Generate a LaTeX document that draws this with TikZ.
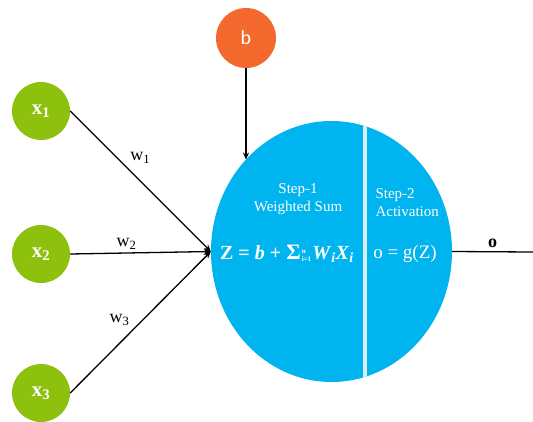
\documentclass[tikz,border=0pt]{standalone}
\usepackage{fontspec}
\setmainfont{Liberation Serif}
\newfontfamily\labelsans{Carlito}
\usetikzlibrary{arrows.meta,positioning,shapes.geometric}
\definecolor{inputgreen}{RGB}{141,193,14}
\definecolor{biasorange}{RGB}{244,106,46}
\definecolor{neuronblue}{RGB}{0,181,239}
\definecolor{splitblue}{RGB}{215,238,250}

\begin{document}
\begin{tikzpicture}[x=1pt,y=-1pt,>={Stealth[length=7pt,width=6pt]},
    input/.style={circle,fill=inputgreen,minimum size=58pt,inner sep=0pt,
                  text=white,font=\fontsize{21}{21}\selectfont\bfseries},
    bias/.style={circle,fill=biasorange,minimum size=60pt,inner sep=0pt,
                 text=white,font=\fontsize{20}{20}\labelsans},
    neuron/.style={ellipse,fill=neuronblue,minimum width=241pt,
                   minimum height=261pt,inner sep=0pt},
    wire/.style={line width=1.3pt},
    weight/.style={font=\fontsize{18}{18}\selectfont},
    steptext/.style={text=white,font=\fontsize{15}{18}\selectfont}]
  \useasboundingbox (0,0) rectangle (533,421);

  \node[neuron] (n) at (331.5,251.5) {};
  \begin{scope}
    \clip (n.center) ellipse [x radius=120.5pt, y radius=130.5pt];
    \draw[splitblue,line width=3.5pt] (365,100) -- (365,400);
  \end{scope}

  \node[input] (x1) at (41,111) {x\textsubscript{1}};
  \node[input] (x2) at (41,254) {x\textsubscript{2}};
  \node[input] (x3) at (41,393) {x\textsubscript{3}};
  \node[bias]  (b)  at (246,38) {b};

  \node[steptext,align=center] (s1) at (298,199) {Step-1\\Weighted Sum};
  \node[steptext,align=left,anchor=west] (s2) at (372,203) {Step-2\\Activation};
  \node[text=white,font=\fontsize{20}{20}\selectfont\bfseries] (sum) at (287,254)
    {Z = \textit{b} + {\fontsize{22}{22}\selectfont Σ}\raisebox{-0.1em}{\fontsize{7}{8}\selectfont\begin{tabular}[b]{@{\,}l@{\,}}n\\i=1\end{tabular}}\textit{W}\textsubscript{\textit{i}}\textit{X}\textsubscript{\textit{i}}};
  \node[text=white,font=\fontsize{19}{19}\selectfont] (act) at (405,254) {o = g(Z)};

  \coordinate (out) at (533,252);

  \draw[wire,->] (x1.east) -- node[weight,pos=.4,above right] {w\textsubscript{1}} (n.west);
  \draw[wire,->] (x2.east) -- node[weight,pos=.4,above] {w\textsubscript{2}} (n.west);
  \draw[wire,->] (x3.east) -- node[weight,pos=.45,above left] {w\textsubscript{3}} (n.west);
  \draw[wire,->] (b) -- (b |- n.133);
  \draw[wire] (n.east) -- node[above,font=\fontsize{18}{18}\selectfont\bfseries] {o} (out);
\end{tikzpicture}
\end{document}
